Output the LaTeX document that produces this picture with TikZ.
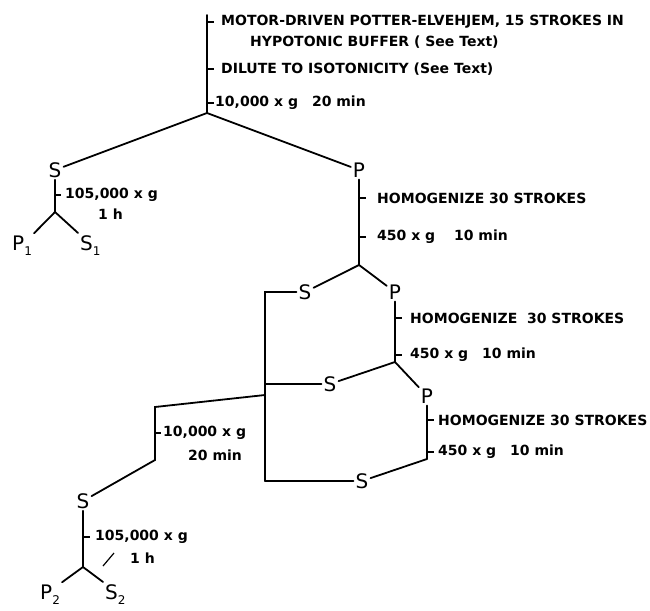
\documentclass[tikz,border=0pt]{standalone}
\usepackage{fontspec}
\setmainfont{DejaVu Sans}
\newcommand\lsub[1]{\raisebox{-5pt}{\fontsize{12}{12}\selectfont #1}}
\tikzset{
  ln/.style={line width=1.8pt, line cap=round},
  lbl/.style={font=\fontsize{20}{22}\selectfont, inner sep=2pt},
  txt/.style={font=\fontsize{14}{16}\selectfont\bfseries, anchor=west, inner sep=0pt},
  tick/.style={line width=1.8pt}
}
\begin{document}
\begin{tikzpicture}[x=1pt,y=-1pt]
\useasboundingbox (0,0) rectangle (650,610);
% top stem
\coordinate (t0) at (207,15);
\coordinate (J1) at (207,113);
\draw[ln] (t0) -- (J1);
\foreach \yy in {22,69,103} \draw[tick] (207,\yy) -- ++(7,0);
\node[txt] (m1) at (221,22) {MOTOR-DRIVEN POTTER-ELVEHJEM, 15 STROKES IN};
\node[txt] (m2) at (250,42) {HYPOTONIC BUFFER ( See Text)};
\node[txt] (m3) at (221,69) {DILUTE TO ISOTONICITY (See Text)};
\node[txt] (m4) at (215,103) {10,000 x g\quad 20 min};
\node[lbl] (Sa) at (55,170) {S};
\node[lbl] (Pa) at (359,170) {P};
\draw[ln] (J1) -- (Sa);
\draw[ln] (J1) -- (Pa);
% left first S
\coordinate (Ja) at (55,212);
\draw[ln] (Sa) -- (Ja);
\draw[tick] (55,195) -- ++(6,0);
\node[txt] (ta1) at (65,195) {105,000 x g};
\node[txt] (ta2) at (98,214) {1 h};
\node[lbl, anchor=base west] (P1) at (10,250) {P\lsub{1}};
\node[lbl, anchor=base west] (S1) at (78,250) {S\lsub{1}};
\draw[ln] (Ja) -- (P1.north east);
\draw[ln] (Ja) -- (S1.north west);
% P stem 1
\coordinate (J2) at (359,265);
\draw[ln] (Pa) -- (J2);
\foreach \yy in {198,237} \draw[tick] (359,\yy) -- ++(7,0);
\node[txt] (h1) at (377,198) {HOMOGENIZE 30 STROKES};
\node[txt] (g1) at (377,237) {450 x g\quad\ 10 min};
\node[lbl] (Sb) at (305,292) {S};
\node[lbl] (Pb) at (395,292) {P};
\draw[ln] (J2) -- (Sb);
\draw[ln] (J2) -- (Pb);
% bus
\coordinate (Bt) at (265,292);
\coordinate (Bm) at (265,384);
\coordinate (Bl) at (265,395);
\coordinate (Bb) at (265,481);
\draw[ln] (Sb) -- (Bt) -- (Bb);
% P stem 2
\coordinate (J3) at (395,362);
\draw[ln] (Pb) -- (J3);
\foreach \yy in {318,355} \draw[tick] (395,\yy) -- ++(7,0);
\node[txt] (h2) at (410,318) {HOMOGENIZE\ \ 30 STROKES};
\node[txt] (g2) at (410,355) {450 x g\quad 10 min};
\node[lbl] (Sc) at (330,384) {S};
\node[lbl] (Pc) at (427,396) {P};
\draw[ln] (J3) -- (Sc);
\draw[ln] (J3) -- (Pc);
\draw[ln] (Sc) -- (Bm);
% P stem 3
\coordinate (J4) at (427,459);
\draw[ln] (Pc) -- (J4);
\foreach \yy in {420,452} \draw[tick] (427,\yy) -- ++(7,0);
\node[txt] (h3) at (438,420) {HOMOGENIZE 30 STROKES};
\node[txt] (g3) at (438,452) {450 x g\quad 10 min};
\node[lbl] (Sd) at (362,481) {S};
\draw[ln] (J4) -- (Sd);
\draw[ln] (Sd) -- (Bb);
% left branch
\coordinate (K1) at (155,407);
\coordinate (K2) at (155,460);
\node[lbl] (Se) at (83,501) {S};
\draw[ln] (Bl) -- (K1) -- (K2) -- (Se);
\draw[tick] (155,433) -- ++(6,0);
\node[txt] (k1) at (163,433) {10,000 x g};
\node[txt] (k2) at (188,455) {20 min};
% bottom S stem
\coordinate (Je) at (83,567);
\draw[ln] (Se) -- (Je);
\draw[tick] (83,537) -- ++(7,0);
\node[txt] (e1) at (95,537) {105,000 x g};
\node[txt] (e2) at (130,558) {1 h};
\coordinate (sl1) at (103,566);
\coordinate (sl2) at (114,553);
\draw[line width=1.2pt] (sl1) -- (sl2);
\node[lbl, anchor=base west] (P2) at (38,599) {P\lsub{2}};
\node[lbl, anchor=base west] (S2) at (103,599) {S\lsub{2}};
\draw[ln] (Je) -- (P2.north east);
\draw[ln] (Je) -- (S2.north west);
\end{tikzpicture}
\end{document}
